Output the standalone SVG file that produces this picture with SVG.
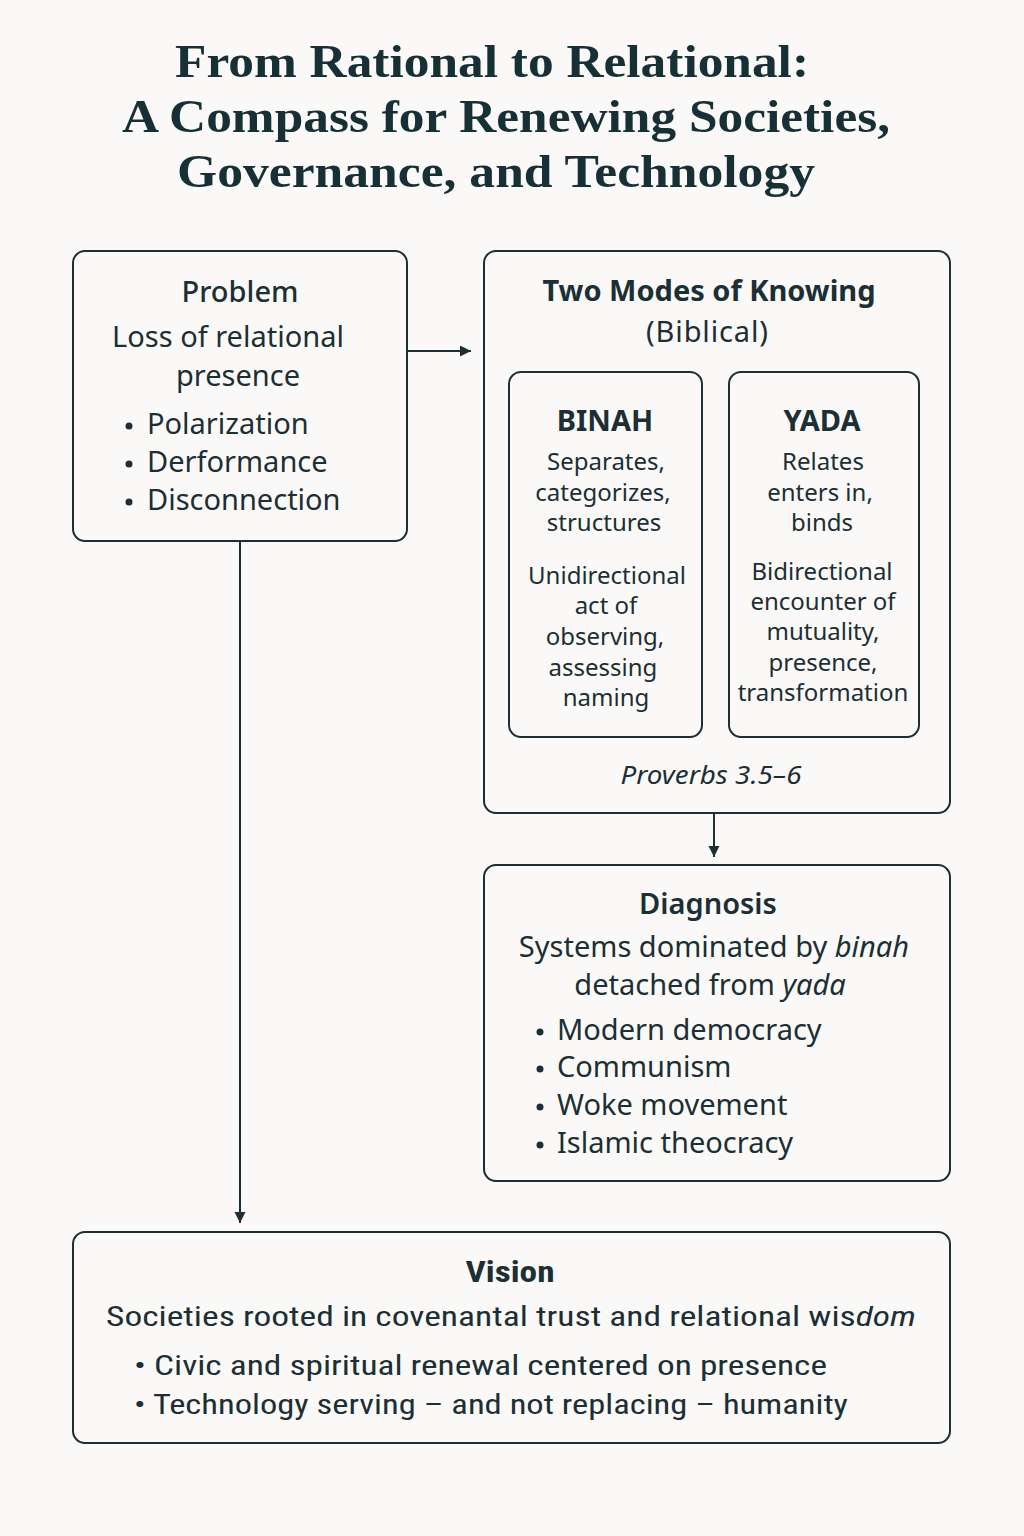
<svg xmlns="http://www.w3.org/2000/svg" width="1024" height="1536" viewBox="0 0 1024 1536">
<defs>
<marker id="ah" markerWidth="14" markerHeight="14" refX="11" refY="5.5" orient="auto" markerUnits="userSpaceOnUse">
<path d="M0,0 L11,5.5 L0,11 Z" fill="#1b2f34"/>
</marker>
<style>
.box{fill:none;stroke:#1b2f34;stroke-width:2}
.t{font-family:"Liberation Serif","DejaVu Serif",serif;font-weight:bold;font-size:46px;fill:#163036;text-anchor:middle}
.h{font-family:"Noto Sans","DejaVu Sans",sans-serif;font-weight:600;font-size:29px;fill:#1b2f34;text-anchor:middle}
.b{font-family:"Noto Sans","DejaVu Sans",sans-serif;font-size:29px;fill:#1b2f34;text-anchor:middle}
.s{font-family:"Noto Sans","DejaVu Sans",sans-serif;font-size:24px;fill:#1b2f34;text-anchor:middle}
.l{font-family:"Noto Sans","DejaVu Sans",sans-serif;font-size:29px;fill:#1b2f34}
.c{font-family:"Liberation Sans Narrow","Roboto Condensed","Liberation Sans",sans-serif;font-size:28px;fill:#1b2f34}
.i{font-style:italic}
.con{fill:none;stroke:#1b2f34;stroke-width:2}
.dot{fill:#1b2f34}
</style>
</defs>
<rect width="1024" height="1536" fill="#faf9f7"/>
<g id="title">
<text class="t" x="492" y="77" textLength="634" lengthAdjust="spacingAndGlyphs">From Rational to Relational:</text>
<text class="t" x="506" y="132" textLength="768" lengthAdjust="spacingAndGlyphs">A Compass for Renewing Societies,</text>
<text class="t" x="496" y="187" textLength="638" lengthAdjust="spacingAndGlyphs">Governance, and Technology</text>
</g>
<g id="connectors">
<line class="con" x1="407" y1="351" x2="471" y2="351" marker-end="url(#ah)"/>
<line class="con" x1="714" y1="813" x2="714" y2="857" marker-end="url(#ah)"/>
<line class="con" x1="240" y1="541" x2="240" y2="1223" marker-end="url(#ah)"/>
</g>
<g id="problem">
<rect class="box" x="73" y="251" width="334" height="290" rx="12"/>
<text class="h" x="240" y="302" style="font-weight:500">Problem</text>
<text class="b" x="228" y="347">Loss of relational</text>
<text class="b" x="238" y="386">presence</text>
<circle class="dot" cx="129" cy="426" r="3.5"/><text class="l" x="147" y="434">Polarization</text>
<circle class="dot" cx="129" cy="464" r="3.5"/><text class="l" x="147" y="472">Derformance</text>
<circle class="dot" cx="129" cy="502" r="3.5"/><text class="l" x="147" y="510">Disconnection</text>
</g>
<g id="two-modes">
<rect class="box" x="484" y="251" width="466" height="562" rx="12"/>
<text class="h" x="709" y="301" style="font-weight:bold">Two Modes of Knowing</text>
<text class="b" x="707" y="342" textLength="122" lengthAdjust="spacing">(Biblical)</text>
<text class="s i" x="711" y="784" style="font-size:25px" textLength="181" lengthAdjust="spacingAndGlyphs">Proverbs 3.5–6</text>
</g>
<g id="binah">
<rect class="box" x="509" y="372" width="193" height="365" rx="12"/>
<text class="h" x="605" y="431" style="font-weight:bold">BINAH</text>
<text class="s" x="606" y="470">Separates,</text>
<text class="s" x="603" y="501">categorizes,</text>
<text class="s" x="604" y="531">structures</text>
<text class="s" x="607" y="584">Unidirectional</text>
<text class="s" x="606" y="614">act of</text>
<text class="s" x="605" y="645">observing,</text>
<text class="s" x="603" y="676">assessing</text>
<text class="s" x="606" y="706">naming</text>
</g>
<g id="yada">
<rect class="box" x="729" y="372" width="190" height="365" rx="12"/>
<text class="h" x="822" y="431" style="font-weight:bold">YADA</text>
<text class="s" x="823" y="470">Relates</text>
<text class="s" x="820" y="501">enters in,</text>
<text class="s" x="822" y="531">binds</text>
<text class="s" x="822" y="580">Bidirectional</text>
<text class="s" x="823" y="610">encounter of</text>
<text class="s" x="823" y="640">mutuality,</text>
<text class="s" x="823" y="671">presence,</text>
<text class="s" x="823" y="701">transformation</text>
</g>
<g id="diagnosis">
<rect class="box" x="484" y="865" width="466" height="316" rx="12"/>
<text class="h" x="708" y="914">Diagnosis</text>
<text class="b" x="714" y="957">Systems dominated by <tspan class="i">binah</tspan></text>
<text class="b" x="710" y="995">detached from <tspan class="i">yada</tspan></text>
<circle class="dot" cx="540" cy="1032" r="3.5"/><text class="l" x="557" y="1040">Modern democracy</text>
<circle class="dot" cx="540" cy="1069" r="3.5"/><text class="l" x="557" y="1077">Communism</text>
<circle class="dot" cx="540" cy="1107" r="3.5"/><text class="l" x="557" y="1115">Woke movement</text>
<circle class="dot" cx="540" cy="1145" r="3.5"/><text class="l" x="557" y="1153">Islamic theocracy</text>
</g>
<g id="vision">
<rect class="box" x="73" y="1232" width="877" height="211" rx="12"/>
<text class="c" x="510" y="1282" style="font-weight:bold;font-size:30px;text-anchor:middle" textLength="89" lengthAdjust="spacingAndGlyphs">Vision</text>
<text class="c" x="106" y="1326" textLength="810" lengthAdjust="spacingAndGlyphs">Societies rooted in covenantal trust and relational wis<tspan class="i">dom</tspan></text>
<text class="c" x="134" y="1375" textLength="693" lengthAdjust="spacingAndGlyphs">• Civic and spiritual renewal centered on presence</text>
<text class="c" x="134" y="1414" textLength="714" lengthAdjust="spacingAndGlyphs">• Technology serving – and not replacing – humanity</text>
</g>
</svg>
